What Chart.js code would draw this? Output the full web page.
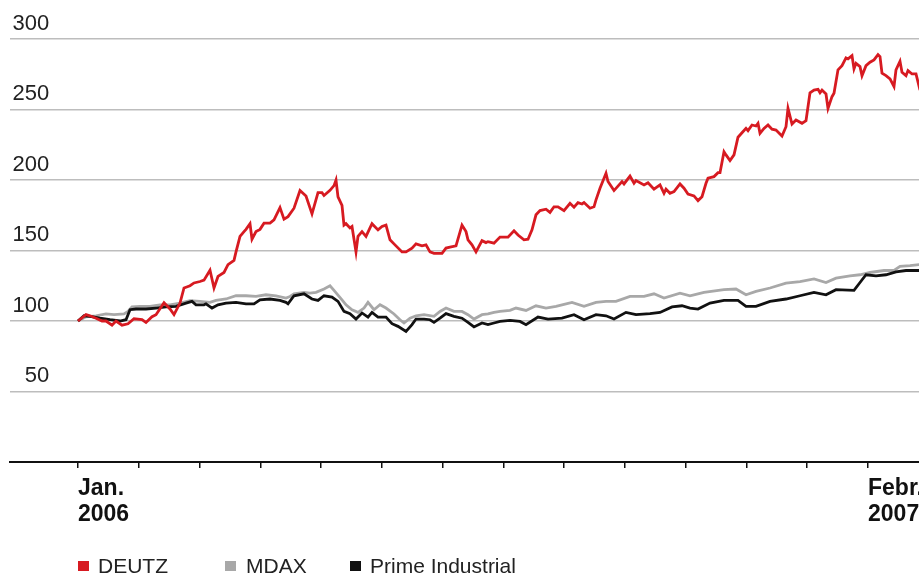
<!DOCTYPE html>
<html>
<head>
<meta charset="utf-8">
<script src="https://cdn.jsdelivr.net/npm/chart.js@4.4.1/dist/chart.umd.min.js"></script>
<style>
html,body{margin:0;padding:0;background:#fff;}
#wrap{position:relative;width:919px;height:573px;overflow:hidden;}
#chart{position:absolute;left:0;top:0;}
.sw{position:absolute;width:11px;height:10px;top:561px;}
.lb{position:absolute;top:555px;line-height:21px;font-family:"Liberation Sans",Arial,sans-serif;font-size:21px;color:#222;white-space:nowrap;}
</style>
</head>
<body>
<div id="wrap">
  <canvas id="chart" width="919" height="573"></canvas>
  <div class="sw" style="left:78px;background:#d71a21"></div><div class="lb" style="left:98px">DEUTZ</div>
  <div class="sw" style="left:225px;background:#a8a8a8"></div><div class="lb" style="left:246px">MDAX</div>
  <div class="sw" style="left:350px;background:#111"></div><div class="lb" style="left:370px">Prime Industrial</div>
</div>
<script>
// Days since 1 Jan 2006 (one "month" on the axis = 30.385 days)
const monthLen = 30.385;
const xTickLabels = [['Jan.','2006'],'','','','','','','','','','','','',['Febr.','2007']];
const yTicks = [0,50,100,150,200,250,300];

const deutzDays = [0,4,6,9,12,14,17,19,22,25,28,32,34,37,39,43,46,48,51,53,56,58,61,63,66,68,70,73,75,78,79,81,83,84,86,87,89,91,93,96,98,101,103,105,108,111,114,117,120,122,123,126,128,129,130,132,133,134,136,137,139,140,142,144,146,147,150,152,154,156,158,162,164,167,169,172,174,176,178,182,184,186,189,192,194,195,197,199,202,204,205,208,211,215,218,220,223,225,227,229,231,234,236,238,240,243,246,248,250,252,253,256,258,259,261,264,265,268,272,273,276,278,279,283,285,288,291,293,294,296,298,301,303,305,308,310,312,314,315,318,320,321,323,324,326,328,330,332,334,335,337,339,340,341,343,345,347,349,352,354,355,357,359,362,364,366,368,370,371,372,374,375,377,378,380,382,384,385,387,388,389,391,392,394,396,398,400,401,402,404,406,408,409,411,412,414,415,417,419,421];
const deutzValues = [100,104.5,103.7,102,100,100,97,100,97,98,101.6,101,99,103,104.5,113,108.5,104.5,112.7,123.4,125,127,128,129,136,123.4,131.6,134.4,140,143,149,160,163.4,165,169,158,163.4,165,169.4,169.4,171.7,180.4,172.2,174,180,192.6,188.7,176,191,191,189,192.7,196,200,188,182,168,169,166,167,149,160,163.4,160,166,169,164.6,167,168,157.6,154.7,149,149,151.7,154.7,153.3,154,149,148,148,151.7,152.4,153.3,168,163.4,157.6,154,149,157,155.6,156.3,155.2,159.5,159.5,164,161,157.6,158,164.6,175.3,178.3,179.3,177,181,181,178.3,183.5,180.7,184,183,184,180,181,185.9,194.2,204.8,198.9,192.5,198.9,197.2,202.8,197.7,199.6,196.5,198.1,193.5,196.5,190.6,193.5,190.6,191.8,197.2,194.2,190.1,188.7,185.4,188.2,197.7,201.3,202.4,205.2,205.2,220,217.8,213.8,217.8,230.3,233.5,236.6,235,239,238.3,240.2,233.1,236.6,239,236,235.4,231.2,237.8,250.8,239.7,242.6,240.2,242.1,261.9,263.8,264.3,261.9,263.8,261,250.8,259.1,261.5,278.1,281.1,286.6,285.9,288.2,278.8,282.7,280.4,274,281.1,283.5,285.2,288.9,287.5,275.7,274,271.7,266.3,278.1,284.2,276.4,274,277.6,275.2,275.2,263.8];

const mdaxDays = [0,4,9,14,18,23,25,27,31,36,41,46,51,56,61,66,69,74,79,84,89,94,99,104,106,108,113,116,119,123,126,128,132,134,137,140,143,145,148,151,154,158,161,163,166,169,173,178,181,184,188,192,195,198,202,205,208,211,216,219,224,229,234,239,247,253,259,264,269,276,283,288,293,301,306,313,323,329,334,339,346,354,361,368,374,379,386,391,396,403,408,411,416,421];
const mdaxValues = [100,103,103.7,105,104.5,105,106.8,110,110.4,110.4,111.5,111.5,112.7,114.4,113.9,113.2,114.6,115.6,117.9,117.9,117.4,118.6,117.9,116.3,117.4,119.3,120.3,119.8,120.3,122.7,125,121.7,115,111.5,108,106.1,109.2,113.2,108,111.5,109.2,105,100.9,98.6,102,103.7,104.5,103.3,106.8,109.2,106.8,106.8,104.5,101.4,104.5,105,106.1,106.8,107.5,109.2,107.5,110.8,109.2,110.4,113.2,110.4,113.2,113.9,113.9,117.4,117.4,119.3,116.3,119.8,117.9,120.3,122.2,122.7,118.6,121,123.4,126.9,128,129.8,127.3,130.4,132,132.8,134.4,135.8,135.8,138.7,139.2,140];

const primeDays = [0,3,6,11,16,21,24,26,29,34,39,44,49,54,57,59,63,64,67,70,74,79,84,88,91,96,101,104,105,108,113,117,120,123,127,130,133,136,139,142,145,147,150,154,157,160,164,167,169,173,176,178,181,184,188,192,195,198,202,205,208,211,216,221,224,230,235,242,248,253,259,264,268,274,279,286,291,297,302,306,310,316,323,330,334,339,346,354,361,368,374,379,388,391,394,399,404,409,414,421];
const primeValues = [100,103.7,103.3,102,100.9,100,100.9,108,108.5,108.5,109.2,110,110.4,112.7,113.9,111.5,111.5,112.2,109.2,111.5,112.7,113.2,112.2,112.2,115,115.6,114.6,113.2,112.2,117.9,119.3,115.6,114.6,117.9,117,113.9,106.8,105.2,101.4,105.7,102.8,106.1,102.8,102.8,98.1,96.2,92.6,97.4,101.4,101.4,100.9,99,102,105.2,103.3,102,99,95.8,98.6,97.4,98.6,99.7,100.4,99.7,97.4,102.8,101.4,102,104.5,100.9,104.5,103.7,101.4,106.1,104.5,105.2,106.1,110,110.8,109.2,108.5,112.7,114.6,114.6,110.4,110.4,113.9,115.6,117.9,120.3,118.6,122.2,121.7,127.3,132.8,132,132.8,134.9,135.8,135.8];

const toPts = (d, v) => d.map((x, i) => ({x: x, y: v[i]}));
const FONT = '"Liberation Sans", Arial, sans-serif';

new Chart(document.getElementById('chart'), {
  type: 'line',
  data: {
    datasets: [
      {label: 'DEUTZ', data: toPts(deutzDays, deutzValues), borderColor: '#d71a21', borderWidth: 2.8, pointRadius: 0, tension: 0, order: 0},
      {label: 'MDAX', data: toPts(mdaxDays, mdaxValues), borderColor: '#a8a8a8', borderWidth: 2.8, pointRadius: 0, tension: 0, order: 2},
      {label: 'Prime Industrial', data: toPts(primeDays, primeValues), borderColor: '#111111', borderWidth: 2.8, pointRadius: 0, tension: 0, order: 1}
    ]
  },
  options: {
    responsive: false,
    animation: false,
    devicePixelRatio: 1,
    layout: {padding: {top: 39, left: 10, right: 0, bottom: 0}},
    plugins: {legend: {display: false}, tooltip: {enabled: false}},
    scales: {
      x: {
        type: 'linear', min: -34, max: 420.5,
        afterBuildTicks: s => { s.ticks = xTickLabels.map((_, i) => ({value: i * monthLen})); },
        afterFit: s => { s.height = 111; s.paddingLeft = 0; s.paddingRight = 0; },
        ticks: {
          autoSkip: false, maxRotation: 0, minRotation: 0, align: 'start', padding: 7,
          color: '#111', font: {family: FONT, size: 23, weight: 'bold', lineHeight: 1.15},
          callback: (v, i) => xTickLabels[i]
        },
        grid: {drawOnChartArea: false, drawTicks: true, tickLength: 6, color: '#111', lineWidth: 1.5},
        border: {display: true, color: '#111', width: 2}
      },
      y: {
        type: 'linear', min: 0, max: 300,
        afterBuildTicks: s => { s.ticks = yTicks.map(v => ({value: v})); },
        afterFit: s => { s.width = 0; s.paddingTop = 0; s.paddingBottom = 0; },
        ticks: {
          mirror: true, crossAlign: 'far', padding: 2.5, labelOffset: -15.5,
          color: '#222', font: {family: FONT, size: 22},
          callback: v => v === 0 ? '' : String(v)
        },
        grid: {drawTicks: false, lineWidth: 1.6, color: c => (c.tick && c.tick.value === 0) ? 'rgba(0,0,0,0)' : '#bdbdbd'},
        border: {display: false}
      }
    }
  }
});
</script>
</body>
</html>
